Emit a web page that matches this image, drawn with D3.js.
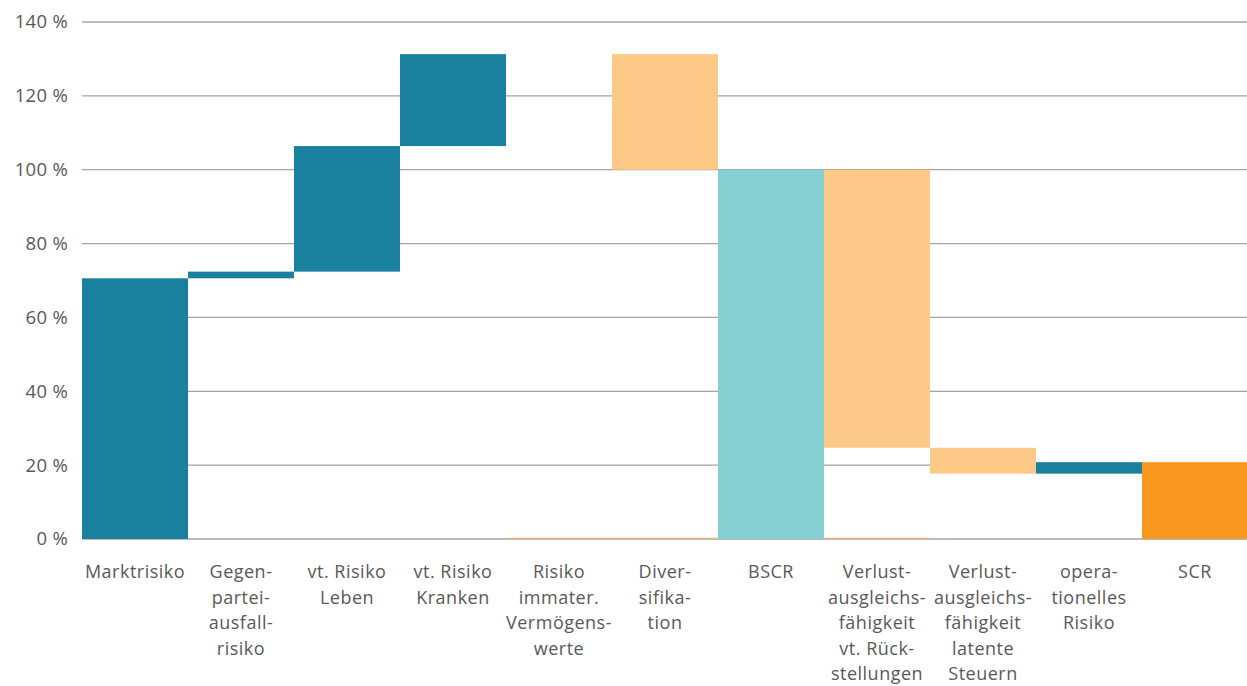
<!DOCTYPE html>
<html>
<head>
<meta charset="utf-8">
<script src="https://cdn.jsdelivr.net/npm/d3@7"></script>
<style>
  body { margin: 0; background: #fff; }
  svg text { font-family: "Open Sans", "Noto Sans", sans-serif; fill: #595959; }
</style>
</head>
<body>
<svg id="chart" width="1247" height="686"></svg>
<script>
// category labels (already hyphenated like the original)
const labels = [
  ["Marktrisiko"],
  ["Gegen-", "partei-", "ausfall-", "risiko"],
  ["vt. Risiko", "Leben"],
  ["vt. Risiko", "Kranken"],
  ["Risiko", "immater.", "Vermögens-", "werte"],
  ["Diver-", "sifika-", "tion"],
  ["BSCR"],
  ["Verlust-", "ausgleichs-", "fähigkeit", "vt. Rück-", "stellungen"],
  ["Verlust-", "ausgleichs-", "fähigkeit", "latente", "Steuern"],
  ["opera-", "tionelles", "Risiko"],
  ["SCR"]
];

// change in % of BSCR, totals are absolute
const deltas = [70.6, 1.8, 34.0, 24.9, 0, -31.3, 100, -75.3, -7.0, 3.1, 20.8];
const kinds = ["up", "up", "up", "up", "down", "down", "total", "down", "down", "up", "final"];

const yTicks = [0, 20, 40, 60, 80, 100, 120, 140];

const colors = {
  up: "#19809d",
  down: "#fdc987",
  total: "#86d0d4",
  final: "#f7971e"
};

const svg = d3.select("#chart");
const margin = { left: 82, right: 0, top: 22, bottom: 147 };
const width = 1247, height = 686;

const x = d3.scaleBand()
  .domain(d3.range(labels.length))
  .range([margin.left, 1248])
  .padding(0);

const y = d3.scaleLinear()
  .domain([0, 140])
  .range([height - margin.bottom, margin.top]);

// work out start / end of every step
let running = 0;
const steps = deltas.map((d, i) => {
  let start, end;
  if (kinds[i] === "total" || kinds[i] === "final") {
    start = 0; end = d; running = d;
  } else {
    start = running; end = running + d; running = end;
  }
  return { i, start, end, kind: kinds[i] };
});

// gridlines
svg.append("g")
  .selectAll("line")
  .data(yTicks)
  .join("line")
  .attr("x1", margin.left)
  .attr("x2", width)
  .attr("y1", d => y(d))
  .attr("y2", d => y(d))
  .attr("stroke", "#a3a3a3")
  .attr("stroke-width", 1.3);

// y labels
svg.append("g")
  .selectAll("text")
  .data(yTicks)
  .join("text")
  .attr("x", 68)
  .attr("y", d => y(d))
  .attr("dy", "0.35em")
  .attr("text-anchor", "end")
  .attr("font-size", 18.5)
  .attr("letter-spacing", 0.3)
  .text(d => d + " %");

// bars
svg.append("g")
  .selectAll("rect")
  .data(steps)
  .join("rect")
  .attr("x", d => x(d.i))
  .attr("width", x.bandwidth())
  .attr("y", d => y(Math.max(d.start, d.end)))
  .attr("height", d => Math.abs(y(d.start) - y(d.end)))
  .attr("fill", d => colors[d.kind]);

// the thin stubs at the baseline under the floating decrease columns
svg.append("g")
  .selectAll("line")
  .data(steps.filter(d => d.kind === "down" && (Math.min(d.start, d.end) > 20 || d.start === d.end)))
  .join("line")
  .attr("x1", d => x(d.i))
  .attr("x2", d => x(d.i) + x.bandwidth())
  .attr("y1", y(0) - 0.5)
  .attr("y2", y(0) - 0.5)
  .attr("stroke", "#dcb88c")
  .attr("stroke-width", 1.3);

// category labels
const lab = svg.append("g")
  .selectAll("text")
  .data(labels)
  .join("text")
  .attr("text-anchor", "middle")
  .attr("font-size", 18)
  .attr("letter-spacing", 0.5)
  .attr("transform", (d, i) => `translate(${x(i) + x.bandwidth() / 2},578)`);

lab.selectAll("tspan")
  .data(d => d)
  .join("tspan")
  .attr("x", 0)
  .attr("y", (d, j) => j * 25.6)
  .text(d => d);
</script>
</body>
</html>
